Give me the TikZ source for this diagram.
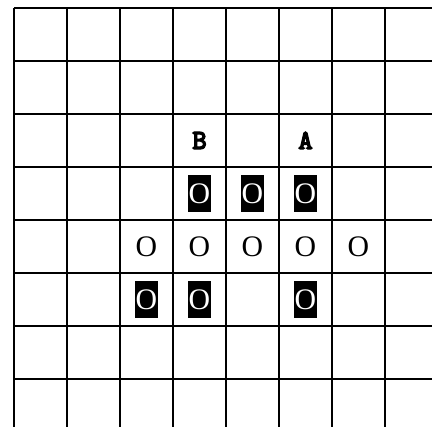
\documentclass[tikz,border=0pt]{standalone}
\usepackage{fontspec}
\setmainfont{Liberation Serif}
\newfontfamily\gridmono{lmmonolt10-bold.otf}
\usepackage{tikz}
\usetikzlibrary{positioning}
\newcommand{\strokemark}[1]{\special{pdf:literal 2 Tr 0.55 w}#1\special{pdf:literal 0 Tr 0.4 w}}

\begin{document}
\begin{tikzpicture}[
  gridline/.style={line width=0.85pt},
  stone/.style={inner sep=0pt, font=\fontsize{16}{16}\selectfont},
  darkstone/.style={stone, fill=black, text=white, minimum width=0.45cm,
    minimum height=0.7cm},
  marker/.style={inner sep=0pt, font=\gridmono\fontsize{15}{15}\selectfont},
]
  \useasboundingbox (0,0) rectangle (8.151,-8.057);

  % grid lines
  \foreach \i in {0,...,7} {
    \draw[gridline] (0.264+\i,-0.151) -- (0.264+\i,-8.057);
    \draw[gridline] (0.264,-0.151-\i) -- (8.151,-0.151-\i);
  }

  % labels above the top row of stones
  \node[marker] (B) at (3.764,-2.651) {\strokemark{B}};
  \node[marker] (A) at (5.764,-2.651) {\strokemark{A}};

  % row 4
  \node[darkstone] (d43) at (3.764,-3.651) {O};
  \node[darkstone] (d44) at (4.764,-3.651) {O};
  \node[darkstone] (d45) at (5.764,-3.651) {O};

  % row 5
  \foreach \c in {2,...,6}
    \node[stone] (w5\c) at (0.764+\c,-4.651) {O};

  % row 6
  \node[darkstone] (d62) at (2.764,-5.651) {O};
  \node[darkstone] (d63) at (3.764,-5.651) {O};
  \node[darkstone] (d65) at (5.764,-5.651) {O};
\end{tikzpicture}
\end{document}
